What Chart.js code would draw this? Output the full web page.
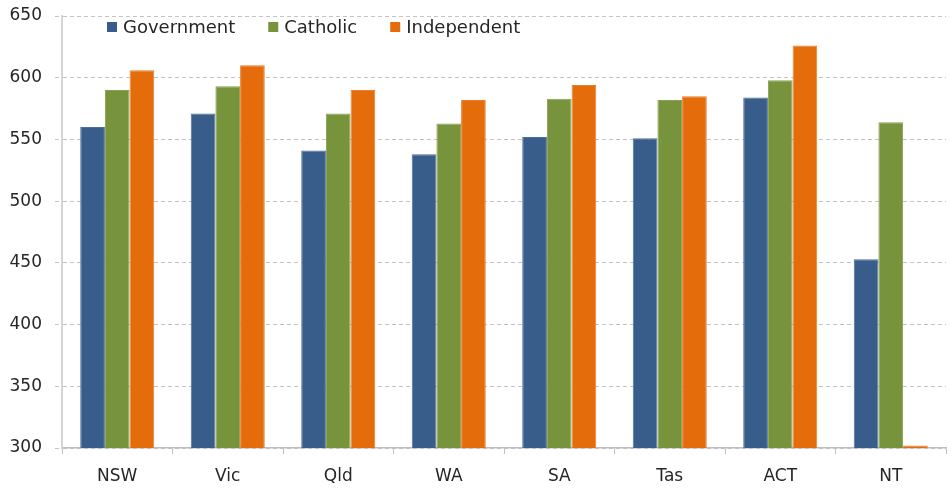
<!DOCTYPE html>
<html>
<head>
<meta charset="utf-8">
<script src="https://cdn.jsdelivr.net/npm/chart.js@4"></script>
<style>
    html, body { margin: 0; padding: 0; background: #fff; }
    #wrap { width: 952px; height: 488px; }
</style>
</head>
<body>
<div id="wrap"><canvas id="chart"></canvas></div>
<script>
// Values
const states = ['NSW', 'Vic', 'Qld', 'WA', 'SA', 'Tas', 'ACT', 'NT'];
const government = [560, 571, 541, 538, 552, 551, 584, 453];
const catholic = [590, 593, 571, 563, 583, 582, 598, 564];
const independent = [606, 610, 590, 582, 594, 585, 626, 302];
const yTicks = [300, 350, 400, 450, 500, 550, 600, 650];

// Legend drawn inside the plot, top left
const insideLegend = {
    id: 'insideLegend',
    afterDatasetsDraw(chart, args, opts) {
        const { ctx, chartArea } = chart;
        let x = chartArea.left + opts.offsetX;
        const y = chartArea.top + opts.offsetY;
        ctx.save();
        ctx.font = '18px "DejaVu Sans"';
        ctx.textBaseline = 'middle';
        chart.data.datasets.forEach(ds => {
            ctx.fillStyle = ds.backgroundColor;
            ctx.fillRect(x, y - 5, 10, 10);
            x += 16;
            ctx.fillStyle = '#262626';
            ctx.fillText(ds.label, x, y + 1);
            x += ctx.measureText(ds.label).width + 33;
        });
        ctx.restore();
    }
};

new Chart(document.getElementById('chart'), {
    type: 'bar',
    data: {
        labels: states,
        datasets: [
            {
                label: 'Government',
                data: government,
                backgroundColor: '#385D8A',
                borderColor: '#4d6e98',
                borderWidth: 1
            },
            {
                label: 'Catholic',
                data: catholic,
                backgroundColor: '#77933C',
                borderColor: '#87a150',
                borderWidth: 1
            },
            {
                label: 'Independent',
                data: independent,
                backgroundColor: '#E46C0A',
                borderColor: '#e97f2a',
                borderWidth: 1
            }
        ]
    },
    plugins: [insideLegend],
    options: {
        responsive: true,
        maintainAspectRatio: false,
        animation: false,
        categoryPercentage: 0.67,
        barPercentage: 1,
        layout: {
            padding: { left: 0, right: 6, top: 0, bottom: 0 }
        },
        plugins: {
            legend: { display: false },
            tooltip: { enabled: false },
            insideLegend: { offsetX: 45, offsetY: 11 }
        },
        scales: {
            x: {
                afterFit: axis => { axis.height = 40; },
                grid: {
                    display: true,
                    drawOnChartArea: false,
                    tickLength: 6,
                    color: '#bfbfbf'
                },
                border: {
                    color: '#bdbdbd',
                    width: 1.5
                },
                ticks: {
                    color: '#262626',
                    padding: 12,
                    font: { family: 'DejaVu Sans', size: 17 }
                }
            },
            y: {
                min: 300,
                max: 650,
                afterBuildTicks: axis => {
                    axis.ticks = yTicks.map(v => ({ value: v }));
                },
                afterFit: axis => {
                    axis.width = 62;
                    axis.paddingTop = 16;
                    axis.paddingBottom = 0;
                },
                grid: {
                    color: '#c4c4c4',
                    tickLength: 7,
                    tickBorderDash: [4, 3]
                },
                border: {
                    color: '#d4d4d4',
                    width: 2,
                    dash: [4, 3]
                },
                ticks: {
                    color: '#262626',
                    padding: 13,
                    font: { family: 'DejaVu Sans', size: 17 }
                }
            }
        }
    }
});
</script>
</body>
</html>
